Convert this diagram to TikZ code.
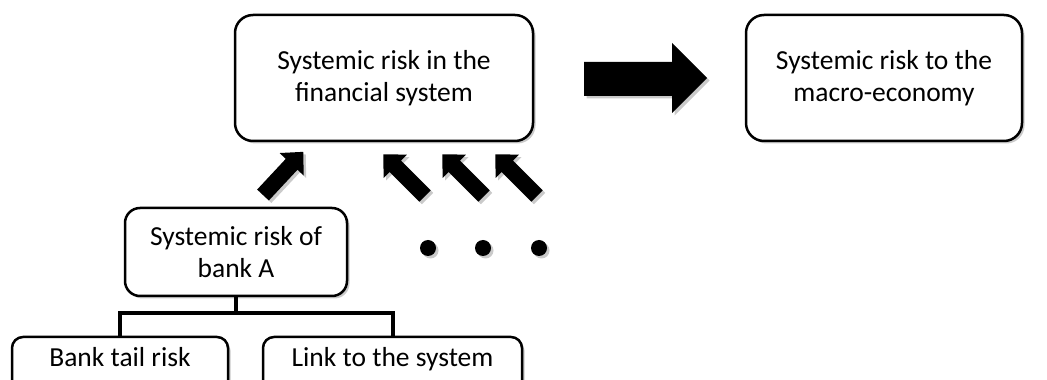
\documentclass[tikz,border=0pt]{standalone}
\usepackage{fontspec}
\setmainfont{Carlito}
\usetikzlibrary{shadows}
\tikzset{
  x=1pt, y=1pt,
  shad/.style={drop shadow={shadow xshift=2.5pt, shadow yshift=-2.5pt, opacity=0.35, fill=black!60}},
  box/.style={draw=black, line width=2.5pt, fill=white, rounded corners=18pt, align=center,
    inner sep=0pt, font=\fontsize{27.5}{32}\selectfont, shad},
  smallbox/.style={box, rounded corners=11pt},
  tree/.style={line width=4pt, draw=black},
  blk/.style={fill=black, shad},
}
\newcommand{\blockarrow}[3]{% tail x, tail y, angle
  \fill[blk, shift={(#1,#2)}, rotate=#3] (0,-8) -- (42,-8) -- (42,-16.5) -- (59,0) -- (42,16.5) -- (42,8) -- (0,8) -- cycle;}
\begin{document}
\begin{tikzpicture}
\useasboundingbox (0,0) rectangle (1047,380);
\node[box, minimum width=298pt, minimum height=126pt] (fin) at (384,302) {Systemic risk in the\\financial system};
\node[box, minimum width=276pt, minimum height=126pt] (mac) at (884,302) {Systemic risk to the\\macro-economy};
\node[box, rounded corners=15pt, minimum width=222pt, minimum height=88pt] (bankA) at (236,128) {Systemic risk of\\bank A};
\node[smallbox, minimum width=216pt, minimum height=58pt, text height=19pt, text depth=17pt] (tail) at (120,14) {Bank tail risk};
\node[smallbox, minimum width=259pt, minimum height=58pt, text height=19pt, text depth=17pt] (link) at (392.5,14) {Link to the system};
% tree connector
\draw[tree] (bankA.south) -- ++(0,-16) coordinate (mid);
\draw[tree, line cap=rect] (tail.north) |- (mid) -| (link.north);
% big arrow
\fill[blk] (584,284) -- (672,284) -- (672,267) -- (707,302) -- (672,337) -- (672,318) -- (584,318) -- cycle;
% small arrows
\blockarrow{263}{185}{47}
\blockarrow{425}{184}{135}
\blockarrow{484}{184}{135}
\blockarrow{537}{184}{135}
% dots
\fill[blk] (428,132) circle (8);
\fill[blk] (483,132) circle (8);
\fill[blk] (539,132) circle (8);
\end{tikzpicture}
\end{document}
